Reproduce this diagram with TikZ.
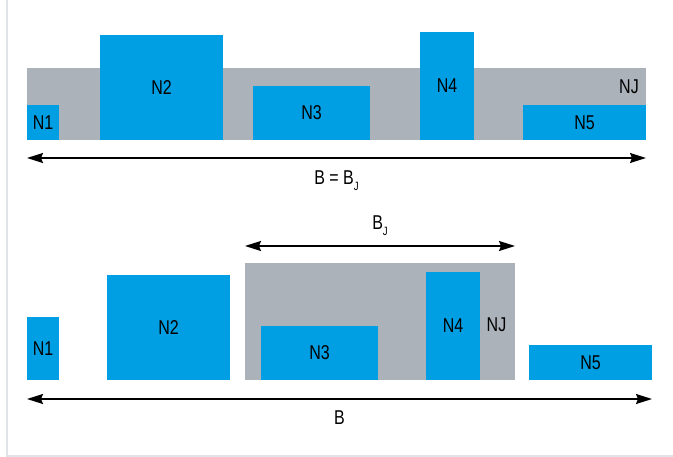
\documentclass[tikz,border=0pt]{standalone}
\usepackage{fontspec}
\setmainfont{Liberation Sans}[FakeStretch=0.8]
\usetikzlibrary{arrows.meta,positioning,calc}
\definecolor{blkblue}{HTML}{009FE3}
\definecolor{jointgray}{HTML}{ACB2B9}
\definecolor{framegray}{HTML}{E0E3E7}
\tikzset{
  blk/.style={fill=blkblue, inner sep=0pt, outer sep=0pt,
    font=\fontsize{20}{22}\selectfont},
  joint/.style={fill=jointgray, inner sep=0pt, outer sep=0pt},
  lbl/.style={inner sep=0pt, font=\fontsize{20}{22}\selectfont},
  span/.style={{Stealth[length=16pt, width=10pt, inset=2pt]}-{Stealth[length=16pt, width=10pt, inset=2pt]},
    line width=1.5pt},
}
\newcommand{\subJ}{\raisebox{-0.3em}{\fontsize{12}{12}\selectfont J}}

\begin{document}
\begin{tikzpicture}[x=1pt,y=-1pt]
  \useasboundingbox (0,0) rectangle (673,457);
  % frame
  \draw[framegray, line width=1.3pt] (7,0) -- (7,456) -- (673,456);
  % upper case: joint area over the whole width
  \node[joint, minimum width=619pt, minimum height=72pt] (nja) at (336.5,104) {};
  \node[blk, minimum width=32pt,  minimum height=35pt]  (n1a) at (43,122.5)   {N1};
  \node[blk, minimum width=123pt, minimum height=105pt] (n2a) at (161.5,87.5) {N2};
  \node[blk, minimum width=117pt, minimum height=54pt]  (n3a) at (311.5,113)  {N3};
  \node[blk, minimum width=54pt,  minimum height=108pt] (n4a) at (447,86)     {N4};
  \node[blk, minimum width=123pt, minimum height=35pt]  (n5a) at (584.5,122.5){N5};
  \node[lbl] (tja) at (629,87) {NJ};
  \coordinate (ba1) at (nja.south west |- 0,158);
  \coordinate (ba2) at (nja.south east |- 0,158);
  \draw[span] (ba1) -- (ba2) node[lbl, midway, below=12pt] (bja) {B = B\subJ};
  % lower case: joint area only around N3 and N4
  \node[joint, minimum width=270pt, minimum height=117pt] (njb) at (380,321.5) {};
  \node[blk, minimum width=32pt,  minimum height=63pt]  (n1b) at (43,348.5)   {N1};
  \node[blk, minimum width=123pt, minimum height=105pt] (n2b) at (168.5,327.5){N2};
  \node[blk, minimum width=117pt, minimum height=54pt]  (n3b) at (319.5,353)  {N3};
  \node[blk, minimum width=54pt,  minimum height=108pt] (n4b) at (453,326)    {N4};
  \node[blk, minimum width=123pt, minimum height=35pt]  (n5b) at (590.5,362.5){N5};
  \node[lbl] (tjb) at (496.5,325) {NJ};
  \coordinate (bj1) at (njb.north west |- 0,246);
  \coordinate (bj2) at (njb.north east |- 0,246);
  \draw[span] (bj1) -- (bj2) node[lbl, midway, above=10pt] (bjb) {B\subJ};
  \coordinate (bb1) at (n1b.south west |- 0,399);
  \coordinate (bb2) at (n5b.south east |- 0,399);
  \draw[span] (bb1) -- (bb2) node[lbl, midway, below=11pt] (bbb) {B};
\end{tikzpicture}
\end{document}
